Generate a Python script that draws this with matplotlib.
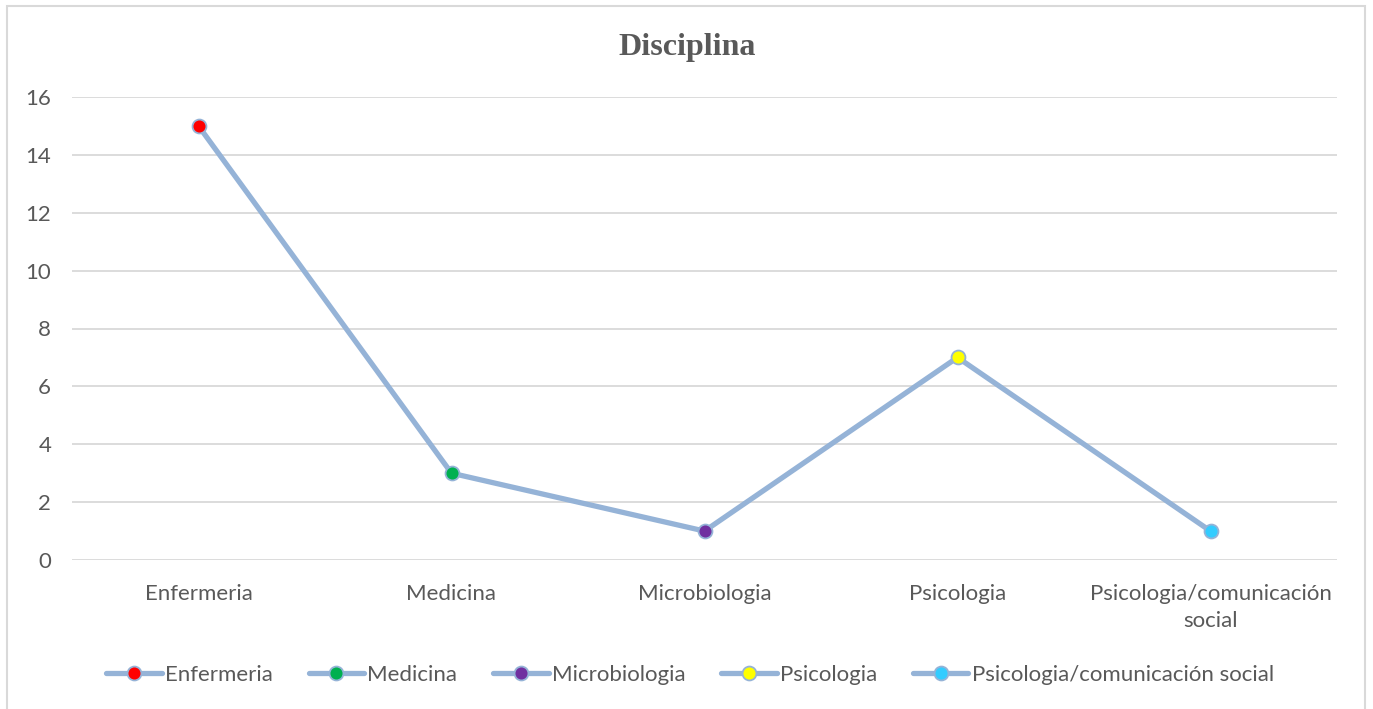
import matplotlib
matplotlib.use("Agg")
import matplotlib.pyplot as plt
from matplotlib.lines import Line2D
from matplotlib.patches import Rectangle

categories = ["Enfermeria", "Medicina", "Microbiologia", "Psicologia",
              "Psicologia/comunicación social"]
tick_labels = ["Enfermeria", "Medicina", "Microbiologia", "Psicologia",
               "Psicologia/comunicación\nsocial"]
values = [15, 3, 1, 7, 1]
marker_colors = ["#FF0000", "#00B050", "#7030A0", "#FFFF00", "#33CCFF"]

line_color = "#95B3D7"
text_color = "#595959"
grid_color = "#D9D9D9"
font = "Lato"
fs = 16

fig = plt.figure(figsize=(13.73, 7.09), dpi=100)
ax = fig.add_axes([72 / 1373, 1 - 560 / 709, (1337 - 72) / 1373, (560 - 97) / 709])

x = list(range(len(categories)))
ax.plot(x, values, color=line_color, lw=3.8, zorder=2, solid_capstyle="round")
for xi, v, c in zip(x, values, marker_colors):
    ax.plot([xi], [v], marker="o", ms=10, mfc=c, mec=line_color, mew=1.3,
            ls="none", zorder=3)

ax.set_xlim(-0.5, len(categories) - 0.5)
ax.set_ylim(0, 16)
ax.set_yticks(range(0, 17, 2))
ax.set_xticks(x)
ax.set_xticklabels(tick_labels, fontsize=fs, color=text_color, family=font,
                   linespacing=1.45)
for lab in ax.get_yticklabels():
    lab.set_fontsize(fs)
    lab.set_color(text_color)
    lab.set_family(font)
ax.tick_params(axis="both", length=0)
ax.tick_params(axis="x", pad=17)
ax.tick_params(axis="y", pad=15)
ax.grid(axis="y", color=grid_color, lw=1.3)
ax.set_axisbelow(True)
for s in ax.spines.values():
    s.set_visible(False)

fig.text(687 / 1373, 1 - 47 / 709, "Disciplina", ha="center", va="center",
         fontsize=23, fontweight="bold", color=text_color,
         family="Liberation Serif")

handles = [Line2D([0], [0], color=line_color, lw=3.8, marker="o", ms=10,
                  mfc=c, mec=line_color, mew=1.3, solid_capstyle="round")
           for c in marker_colors]
leg = fig.legend(handles, categories, loc="center",
                 bbox_to_anchor=(690 / 1373, 1 - 675 / 709), ncol=5,
                 frameon=False, handlelength=2.5, handletextpad=0.15,
                 columnspacing=1.6,
                 prop={"family": font, "size": fs})
for t in leg.get_texts():
    t.set_color(text_color)

fig.patches.append(Rectangle((7 / 1373, -0.01), (1365 - 7) / 1373, 1 - 6 / 709 + 0.01,
                             transform=fig.transFigure, fill=False,
                             edgecolor=grid_color, lw=1.5))

fig.savefig("out.png", dpi=100)
